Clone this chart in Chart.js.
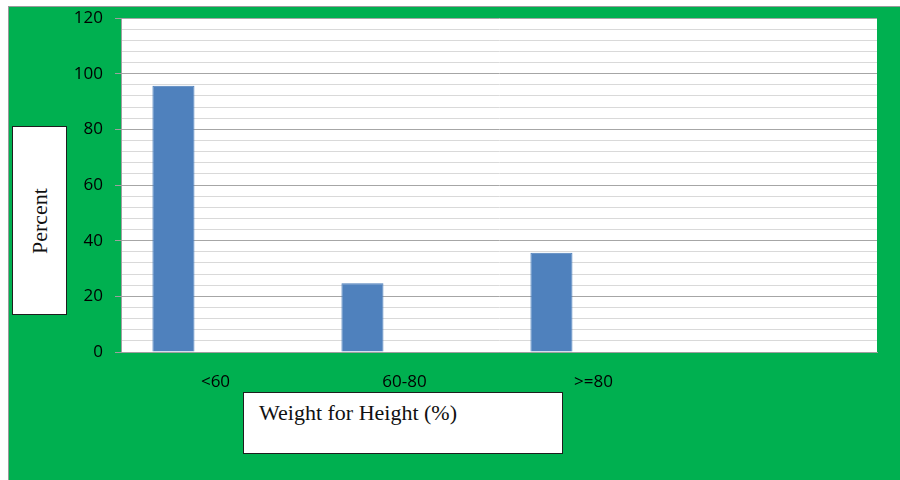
<!DOCTYPE html>
<html>
<head>
<meta charset="utf-8">
<script src="https://cdn.jsdelivr.net/npm/chart.js@4/dist/chart.umd.min.js"></script>
<style>
    body { margin: 0; width: 900px; height: 480px; overflow: hidden; background: #ffffff; position: relative; }
    #frame { position: absolute; left: 8px; top: 6px; width: 892px; height: 474px; box-sizing: border-box;
             background: #00b050; border-top: 1px solid #9a9a9a; border-left: 1px solid #9a9a9a; }
    #chart { position: absolute; left: 0; top: 0; }
    .box { position: absolute; background: #ffffff; border: 1.5px solid #1e1e1e; box-sizing: border-box;
           font-family: "Liberation Serif", "DejaVu Serif", serif; font-size: 22px; color: #111111; }
    #yTitle { left: 12px; top: 126px; width: 55px; height: 189px; display: flex; align-items: center; justify-content: center; }
    #yTitle span { display: block; transform: rotate(-90deg); white-space: nowrap; }
    #xTitle { left: 243px; top: 392px; width: 320px; height: 62px; padding: 8px 0 0 15px; line-height: 24px; }
</style>
</head>
<body>
<div id="frame"></div>
<canvas id="chart" width="900" height="480"></canvas>
<div class="box" id="yTitle"><span>Percent</span></div>
<div class="box" id="xTitle">Weight for Height (%)</div>

<script>
// DATA
const categories = ['<60', '60-80', '>=80', ''];
const percentValues = [95.7, 24.7, 35.7, null];
const emptySeries = [null, null, null, null];
const yTicks = [0, 20, 40, 60, 80, 100, 120];
// DATA

// WHITE PLOT AREA
const plotBackground = {
    id: 'plotBackground',
    beforeDraw(chart) {
        const ctx = chart.ctx;
        const a = chart.chartArea;
        ctx.save();
        ctx.fillStyle = '#ffffff';
        ctx.fillRect(a.left, a.top, a.right - a.left, a.bottom - a.top);
        ctx.restore();
    }
};
// WHITE PLOT AREA

function isMajor(value) {
    return yTicks.indexOf(value) !== -1;
}

// GRAPH
function graph() {
    const ctx = document.getElementById('chart').getContext('2d');
    new Chart(ctx, {
        type: 'bar',
        data: {
            labels: categories,
            datasets: [{
                label: 'Percent',
                data: percentValues,
                backgroundColor: '#4f81bd',
                borderColor: '#4a7dba',
                borderWidth: 1,
                categoryPercentage: 0.89,
                barPercentage: 0.5
            }, {
                label: 'Series 2',
                data: emptySeries,
                backgroundColor: '#c0504d',
                categoryPercentage: 0.89,
                barPercentage: 0.5
            }]
        },
        options: {
            responsive: false,
            animation: false,
            layout: { padding: { top: 18, right: 23, bottom: 0, left: 0 } },
            plugins: {
                legend: { display: false },
                tooltip: { enabled: false }
            },
            scales: {
                x: {
                    grid: { display: false },
                    border: { display: true, color: '#9f9f9f', width: 1 },
                    ticks: {
                        color: '#000000',
                        padding: 12,
                        maxRotation: 0,
                        font: { family: 'Open Sans', size: 17 }
                    },
                    afterFit(scale) { scale.height = 128; }
                },
                y: {
                    min: 0,
                    max: 120,
                    grid: {
                        color: (c) => isMajor(c.tick.value) ? '#a6a6a6' : '#d9d9d9',
                        tickColor: (c) => isMajor(c.tick.value) ? '#9f9f9f' : 'rgba(0,0,0,0)',
                        tickLength: 6,
                        lineWidth: 1
                    },
                    border: { display: true, color: '#9f9f9f', width: 1 },
                    ticks: {
                        stepSize: 4,
                        maxTicksLimit: 40,
                        autoSkip: false,
                        color: '#000000',
                        padding: 12,
                        font: { family: 'Open Sans', size: 17 },
                        callback: (v) => isMajor(v) ? v : ''
                    },
                    afterFit(scale) {
                        scale.width = 121;
                        scale.paddingTop = 0;
                        scale.paddingBottom = 0;
                    }
                }
            }
        },
        plugins: [plotBackground]
    });
}
// GRAPH

graph();
</script>
</body>
</html>
